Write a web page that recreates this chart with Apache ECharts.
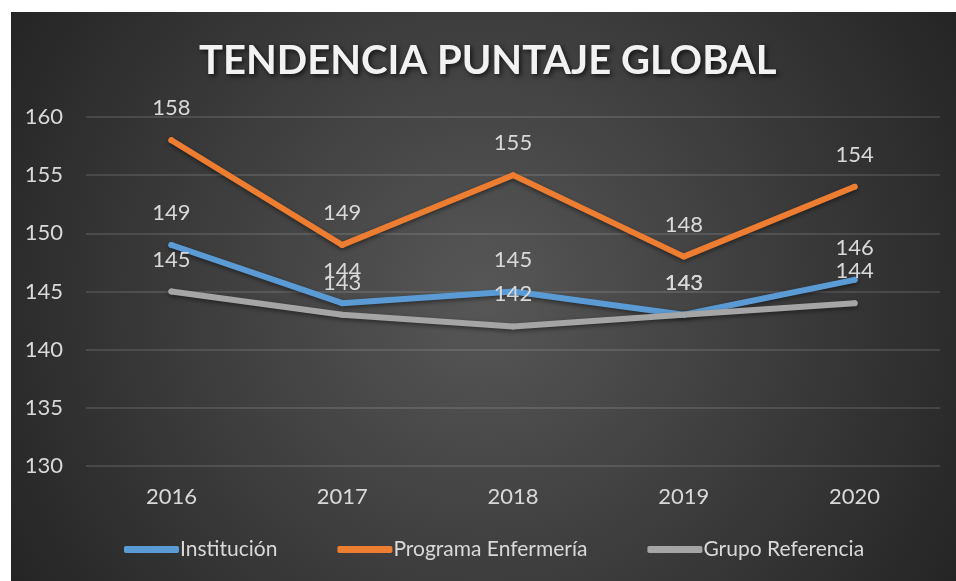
<!DOCTYPE html>
<html>
<head>
<meta charset="utf-8">
<script src="https://cdn.jsdelivr.net/npm/echarts@6/dist/echarts.min.js"></script>
<style>
  html, body { margin: 0; padding: 0; background: #ffffff; }
  #chart { position: absolute; left: 11px; top: 12px; width: 945px; height: 569px; }
</style>
</head>
<body>
<div id="chart"></div>
<script>
// Puntaje global por año
const years = ['2016', '2017', '2018', '2019', '2020'];
const institucion = [149, 144, 145, 143, 146];
const programaEnfermeria = [158, 149, 155, 148, 154];
const grupoReferencia = [145, 143, 142, 143, 144];
const seriesNames = ['Institución', 'Programa Enfermería', 'Grupo Referencia'];
const seriesColors = ['#5B9BD5', '#ED7D31', '#A5A5A5'];

const FONT = 'Lato, "Open Sans", sans-serif';
const TEXT = '#d9d9d9';

function lineSeries(name, data, color) {
  return {
    name: name,
    type: 'line',
    data: data,
    symbol: 'circle',
    symbolSize: 6,
    itemStyle: { color: color },
    lineStyle: {
      width: 6,
      color: color,
      cap: 'round',
      join: 'round',
      shadowColor: 'rgba(0,0,0,0.45)',
      shadowBlur: 4,
      shadowOffsetY: 2
    },
    label: {
      show: true,
      position: 'top',
      distance: 18,
      color: TEXT,
      fontFamily: FONT,
      fontSize: 22
    },
    emphasis: { disabled: true }
  };
}

const chart = echarts.init(document.getElementById('chart'), null, { renderer: 'canvas' });
chart.setOption({
  animation: false,
  backgroundColor: {
    type: 'radial',
    x: 0.5, y: 0.5, r: 1,
    colorStops: [
      { offset: 0, color: '#575757' },
      { offset: 1, color: '#232323' }
    ]
  },
  title: {
    text: 'TENDENCIA PUNTAJE GLOBAL',
    left: 183,
    top: 24,
    textStyle: {
      color: '#f2f2f2',
      fontFamily: FONT,
      fontWeight: 'bold',
      fontSize: 40,
      textShadowColor: 'rgba(0,0,0,0.7)',
      textShadowBlur: 5,
      textShadowOffsetX: 2,
      textShadowOffsetY: 2
    }
  },
  legend: {
    data: seriesNames,
    top: 522,
    left: 108,
    icon: 'roundRect',
    itemWidth: 55,
    itemHeight: 7,
    itemGap: 60,
    textStyle: { color: TEXT, fontFamily: FONT, fontSize: 21, padding: [0, 0, 0, -4] }
  },
  grid: { left: 75, right: 16, top: 105, bottom: 115 },
  xAxis: {
    type: 'category',
    data: years,
    boundaryGap: true,
    axisLine: { show: false },
    axisTick: { show: false },
    axisLabel: { color: TEXT, fontFamily: FONT, fontSize: 22, margin: 20 }
  },
  yAxis: {
    type: 'value',
    min: 130,
    max: 160,
    interval: 5,
    axisLine: { show: false },
    axisTick: { show: false },
    axisLabel: { color: TEXT, fontFamily: FONT, fontSize: 22, margin: 23 },
    splitLine: { lineStyle: { color: 'rgba(255,255,255,0.16)', width: 1.5 } }
  },
  series: [
    lineSeries(seriesNames[0], institucion, seriesColors[0]),
    lineSeries(seriesNames[1], programaEnfermeria, seriesColors[1]),
    lineSeries(seriesNames[2], grupoReferencia, seriesColors[2])
  ]
});
</script>
</body>
</html>
